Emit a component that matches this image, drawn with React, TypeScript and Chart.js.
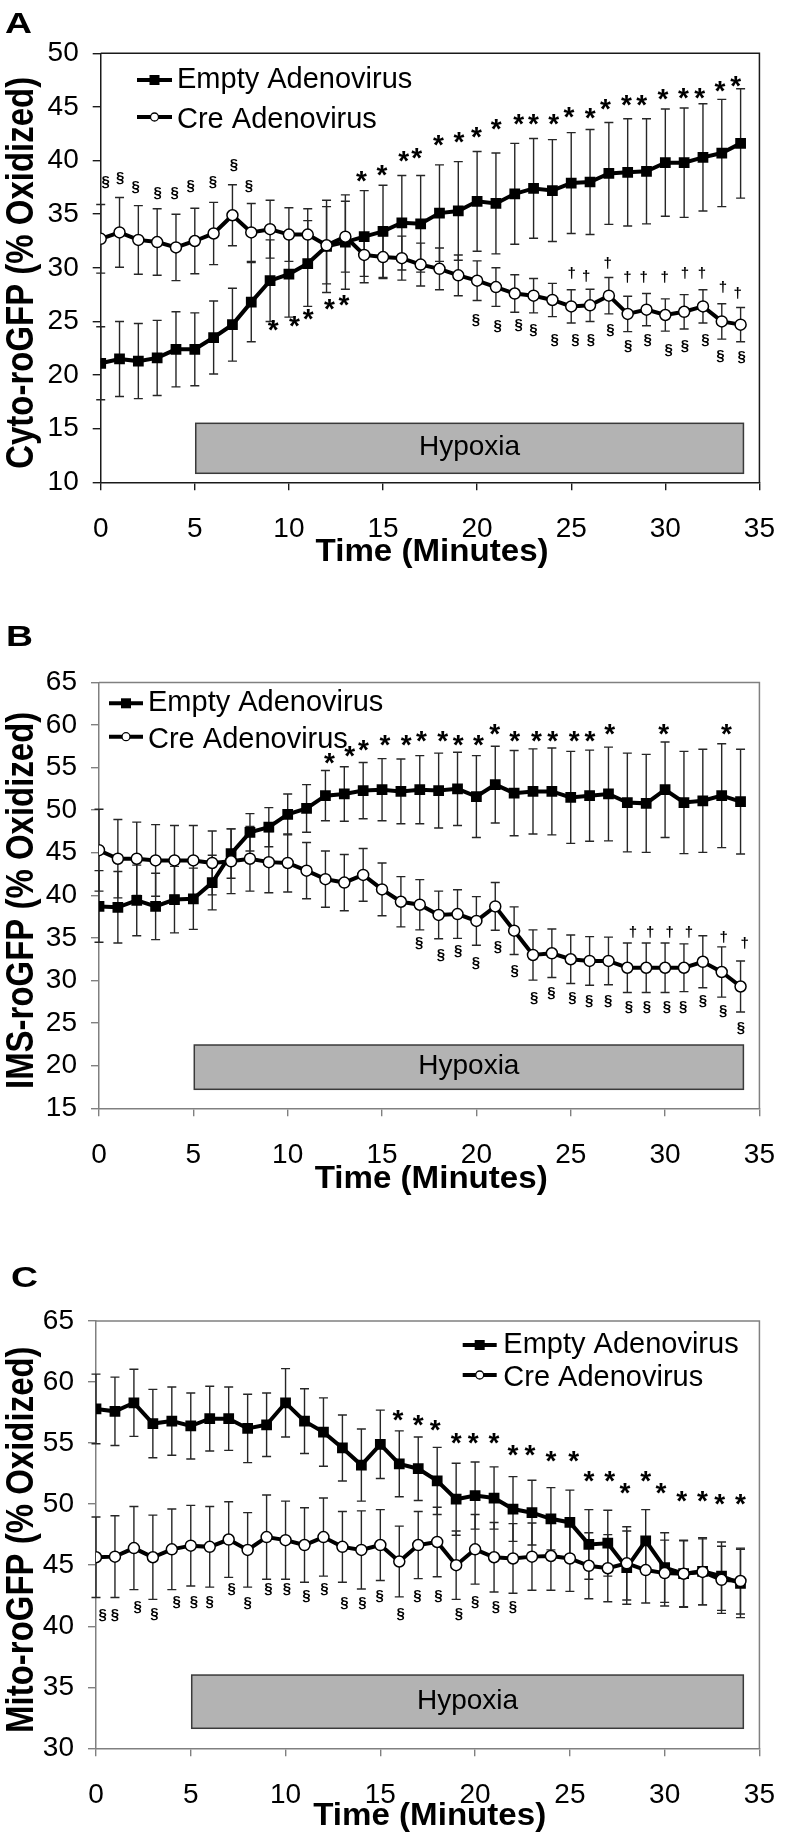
import React, { useEffect, useRef } from "react";
import { Chart, registerables } from "chart.js";

Chart.register(...registerables);

const FONT = "'Liberation Sans', Arial, Helvetica, sans-serif";

// ---------- shared categories ----------
const minutes = [0, 1, 2, 3, 4, 5, 6, 7, 8, 9, 10, 11, 12, 13, 14, 15, 16, 17, 18, 19, 20, 21, 22, 23, 24, 25, 26, 27, 28, 29, 30, 31, 32, 33, 34];
const xTicks = [0, 5, 10, 15, 20, 25, 30, 35];
const seriesNames = ["Empty Adenovirus", "Cre Adenovirus"];
const hypoxiaLabel = "Hypoxia";
const xTitle = "Time (Minutes)";

// ---------- Panel A : Cyto-roGFP ----------
const emptyA = [21.1, 21.5, 21.3, 21.6, 22.4, 22.4, 23.5, 24.7, 26.8, 28.8, 29.4, 30.4, 32.0, 32.4, 32.9, 33.4, 34.2, 34.1, 35.1, 35.3, 36.2, 36.0, 36.9, 37.4, 37.2, 37.9, 38.0, 38.8, 38.9, 39.0, 39.8, 39.8, 40.3, 40.7, 41.6];
const emptyErrA = [3.4, 3.5, 3.5, 3.5, 3.5, 3.4, 3.4, 3.4, 3.7, 3.8, 4.0, 4.0, 4.3, 4.4, 4.3, 4.3, 4.4, 4.5, 4.5, 4.6, 4.65, 4.7, 4.7, 4.65, 4.75, 4.7, 4.9, 4.75, 5.0, 4.9, 5.0, 5.1, 5.0, 5.0, 5.1];
const creA = [32.7, 33.3, 32.6, 32.4, 31.9, 32.5, 33.2, 34.9, 33.3, 33.6, 33.1, 33.1, 32.1, 32.9, 31.2, 31.0, 30.9, 30.3, 29.9, 29.3, 28.8, 28.2, 27.6, 27.4, 27.0, 26.4, 26.5, 27.4, 25.7, 26.1, 25.6, 25.9, 26.4, 25.0, 24.7];
const creErrA = [3.2, 3.25, 3.2, 3.1, 3.1, 3.05, 2.9, 2.85, 2.7, 2.7, 2.5, 2.4, 3.6, 3.3, 2.0, 2.0, 2.05, 2.0, 1.95, 1.9, 1.85, 1.8, 1.75, 1.6, 1.55, 1.55, 1.5, 1.7, 1.65, 1.5, 1.5, 1.6, 1.55, 1.65, 1.6];
const yTitleA = "Cyto-roGFP (% Oxidized)";
const yRangeA = [10, 50];
const hypoxiaRangeA = [10.84, 15.5];
const sectionAboveA = [[0.27, 38.0], [1.03, 38.34], [1.86, 37.5], [3.03, 36.94], [3.93, 36.94], [4.78, 37.56], [5.96, 38.0], [7.08, 39.58], [7.88, 37.56]];
const starBelowA = [[9.17, 24.65], [10.29, 24.96], [11.03, 25.65], [12.15, 26.6], [12.93, 26.99]];
const starAboveA = [[13.86, 38.49], [14.94, 39.1], [16.1, 40.35], [16.79, 40.65], [17.95, 41.85], [19.04, 42.15], [19.97, 42.6], [21.02, 43.4], [22.21, 43.85], [22.99, 43.85], [24.07, 43.85], [24.88, 44.5], [26.01, 44.4], [26.82, 45.2], [27.94, 45.6], [28.75, 45.6], [29.87, 46.15], [30.96, 46.25], [31.82, 46.25], [32.9, 46.9], [33.74, 47.35]];
const daggerA = [[25.02, 29.48], [25.79, 29.23], [26.94, 30.41], [27.98, 29.16], [28.85, 29.16], [29.97, 29.16], [31.04, 29.53], [31.94, 29.48], [33.06, 28.17], [33.85, 27.61]];
const sectionBelowA = [[19.94, 25.12], [21.09, 24.5], [22.21, 24.6], [22.99, 24.19], [24.12, 23.26], [25.22, 23.26], [26.05, 23.26], [27.08, 24.19], [28.03, 22.63], [29.06, 23.26], [30.18, 22.33], [31.04, 22.63], [32.13, 23.26], [32.93, 21.7], [34.05, 21.64]];

// ---------- Panel B : IMS-roGFP ----------
const emptyB = [38.7, 38.6, 39.4, 38.7, 39.5, 39.6, 41.5, 44.9, 47.4, 48.0, 49.5, 50.2, 51.7, 51.9, 52.3, 52.4, 52.2, 52.4, 52.3, 52.5, 51.6, 53.0, 52.0, 52.2, 52.2, 51.5, 51.7, 51.9, 50.9, 50.8, 52.4, 50.9, 51.1, 51.7, 51.0];
const emptyErrB = [4.2, 4.2, 4.15, 3.9, 3.9, 3.6, 3.2, 2.9, 2.2, 2.3, 2.4, 2.8, 2.95, 3.2, 3.3, 3.65, 3.8, 4.0, 4.4, 4.3, 4.8, 4.5, 5.0, 5.0, 5.1, 5.4, 5.35, 5.5, 5.8, 5.75, 5.6, 6.0, 6.05, 6.1, 6.15];
const creB = [45.3, 44.3, 44.3, 44.1, 44.1, 44.1, 43.8, 44.0, 44.3, 43.9, 43.8, 42.9, 41.9, 41.5, 42.4, 40.7, 39.25, 38.9, 37.7, 37.8, 37.0, 38.7, 35.85, 33.0, 33.2, 32.5, 32.3, 32.3, 31.5, 31.5, 31.5, 31.5, 32.2, 31.0, 29.3];
const creErrB = [4.8, 4.6, 4.3, 4.2, 4.1, 4.1, 3.75, 3.8, 3.8, 3.6, 3.4, 3.3, 3.3, 3.3, 3.1, 3.1, 2.95, 2.95, 2.8, 2.85, 2.85, 2.8, 2.8, 2.95, 2.85, 2.85, 2.85, 2.8, 2.9, 2.9, 2.9, 2.8, 3.05, 2.95, 3.0];
const yTitleB = "IMS-roGFP (% Oxidized)";
const yRangeB = [15, 65];
const hypoxiaRangeB = [17.23, 22.43];
const starB = [[12.21, 56.08], [13.28, 56.94], [14.01, 57.64], [15.16, 58.23], [16.28, 58.23], [17.09, 58.7], [18.22, 58.7], [19.03, 58.23], [20.11, 58.23], [20.97, 59.48], [22.03, 58.7], [23.18, 58.7], [24.04, 58.7], [25.18, 58.7], [26.02, 58.7], [27.06, 59.48], [29.93, 59.48], [33.25, 59.48]];
const sectionB = [[16.97, 34.37], [18.12, 32.88], [19.03, 33.38], [19.97, 32.02], [21.14, 33.9], [22.03, 31.03], [23.06, 27.91], [23.97, 28.5], [25.09, 27.91], [25.98, 27.51], [26.98, 27.51], [28.09, 26.81], [29.04, 26.81], [30.1, 26.81], [30.96, 26.81], [32.0, 27.51], [33.08, 26.34], [34.02, 24.39]];
const daggerB = [[28.3, 35.73], [29.21, 35.73], [30.24, 35.73], [31.27, 35.73], [33.11, 35.14], [34.22, 34.37]];

// ---------- Panel C : Mito-roGFP ----------
const emptyC = [57.8, 57.6, 58.3, 56.6, 56.8, 56.4, 57.0, 57.0, 56.2, 56.5, 58.3, 56.8, 55.9, 54.6, 53.2, 54.9, 53.3, 52.9, 51.9, 50.4, 50.7, 50.5, 49.6, 49.3, 48.8, 48.5, 46.7, 46.8, 44.8, 47.0, 44.8, 44.3, 44.5, 44.1, 43.5];
const emptyErrC = [2.85, 2.8, 2.75, 2.8, 2.8, 2.7, 2.65, 2.6, 2.8, 2.6, 2.8, 2.65, 2.8, 2.7, 2.95, 2.8, 2.7, 2.6, 2.75, 2.95, 2.75, 2.55, 2.65, 2.65, 2.55, 2.65, 2.85, 2.7, 3.0, 2.55, 2.85, 2.75, 2.75, 2.8, 2.8];
const creC = [45.65, 45.7, 46.4, 45.65, 46.3, 46.6, 46.5, 47.1, 46.25, 47.3, 47.05, 46.65, 47.3, 46.5, 46.25, 46.65, 45.3, 46.65, 46.9, 45.0, 46.3, 45.65, 45.55, 45.7, 45.75, 45.55, 44.95, 44.75, 45.15, 44.6, 44.35, 44.3, 44.45, 43.8, 43.7];
const creErrC = [3.3, 3.35, 3.4, 3.45, 3.3, 3.3, 3.3, 3.1, 3.05, 3.45, 3.2, 3.05, 3.2, 2.9, 3.2, 2.9, 2.9, 2.75, 2.85, 2.8, 2.85, 2.85, 2.85, 2.75, 2.8, 2.7, 2.7, 2.75, 3.0, 2.7, 2.7, 2.7, 2.7, 2.75, 2.7];
const yTitleC = "Mito-roGFP (% Oxidized)";
const yRangeC = [30, 65];
const hypoxiaRangeC = [31.64, 36.0];
const starC = [[15.93, 57.3], [17.0, 56.89], [17.9, 56.48], [19.0, 55.39], [19.9, 55.39], [21.0, 55.39], [22.0, 54.43], [22.9, 54.43], [24.0, 53.88], [25.2, 53.88], [26.0, 52.24], [27.1, 52.24], [27.9, 51.3], [29.0, 52.24], [29.8, 51.3], [30.9, 50.63], [32.0, 50.63], [32.9, 50.34], [34.0, 50.34]];
const sectionC = [[0.35, 40.84], [1.0, 40.84], [2.2, 41.55], [3.08, 40.92], [4.26, 41.93], [5.16, 41.93], [6.0, 41.93], [7.16, 43.02], [8.0, 41.87], [9.1, 43.02], [10.07, 43.02], [11.1, 42.42], [12.05, 43.02], [13.1, 41.87], [14.05, 41.87], [14.96, 42.42], [16.07, 40.92], [16.96, 42.42], [18.07, 42.42], [19.14, 40.92], [20.0, 41.93], [21.1, 41.55], [22.0, 41.55]];

const hypoxiaSpan = [5.05, 34.15];

type Marks = { list: number[][]; glyph: string }[];

type PanelCfg = {
  letter: string;
  top: number;
  height: number;
  left: number;
  areaTop: number;
  areaBottom: number;
  yRange: number[];
  hyp: number[];
  axisColor: string;
  empty: number[];
  emptyErr: number[];
  cre: number[];
  creErr: number[];
  yTitle: string;
  marks: Marks;
  legend: { x0: number; x1: number; tx: number; y1: number; y2: number };
  letterPos: { x: number; y: number };
  xTitleY: number;
};

const panels: PanelCfg[] = [
  {
    letter: "A", top: 0, height: 610, left: 100.7, areaTop: 53.3, areaBottom: 482.3,
    yRange: yRangeA, hyp: hypoxiaRangeA, axisColor: "#1a1a1a",
    empty: emptyA, emptyErr: emptyErrA, cre: creA, creErr: creErrA, yTitle: yTitleA,
    marks: [
      { list: sectionAboveA, glyph: "§" },
      { list: starBelowA, glyph: "*" },
      { list: starAboveA, glyph: "*" },
      { list: daggerA, glyph: "†" },
      { list: sectionBelowA, glyph: "§" },
    ],
    legend: { x0: 137, x1: 172, tx: 177, y1: 80, y2: 117 },
    letterPos: { x: 5, y: 23 },
    xTitleY: 553,
  },
  {
    letter: "B", top: 610, height: 610, left: 99, areaTop: 72.4, areaBottom: 498.3,
    yRange: yRangeB, hyp: hypoxiaRangeB, axisColor: "#808080",
    empty: emptyB, emptyErr: emptyErrB, cre: creB, creErr: creErrB, yTitle: yTitleB,
    marks: [
      { list: starB, glyph: "*" },
      { list: sectionB, glyph: "§" },
      { list: daggerB, glyph: "†" },
    ],
    legend: { x0: 109, x1: 143, tx: 148, y1: 703.3, y2: 736.7 },
    letterPos: { x: 6, y: 636 },
    xTitleY: 1180,
  },
  {
    letter: "C", top: 1220, height: 620, left: 96, areaTop: 101, areaBottom: 528.3,
    yRange: yRangeC, hyp: hypoxiaRangeC, axisColor: "#808080",
    empty: emptyC, emptyErr: emptyErrC, cre: creC, creErr: creErrC, yTitle: yTitleC,
    marks: [
      { list: starC, glyph: "*" },
      { list: sectionC, glyph: "§" },
    ],
    legend: { x0: 462.7, x1: 496.7, tx: 503.3, y1: 1345, y2: 1375 },
    letterPos: { x: 11, y: 1277 },
    xTitleY: 1816.7,
  },
];

const RIGHT = 778.3;
const X_AXIS_H = 60;
const Y_TITLE_LEN_A = 392; // on-page length of the panel A y title

function drawScaledText(ctx: CanvasRenderingContext2D, text: string, cx: number, cy: number, font: string, targetW: number | null, align: "center" | "left") {
  ctx.save();
  ctx.font = font;
  const m = ctx.measureText(text);
  const w = m.width;
  const sx = targetW ? targetW / w : 1;
  const asc = m.actualBoundingBoxAscent;
  const desc = m.actualBoundingBoxDescent;
  ctx.translate(cx, cy + (asc - desc) / 2);
  ctx.scale(sx, 1);
  ctx.textBaseline = "alphabetic";
  ctx.textAlign = align;
  ctx.fillStyle = "#000";
  ctx.fillText(text, 0, 0);
  ctx.restore();
}

function glyphFont(g: string) {
  if (g === "*") return `bold 28px ${FONT}`;
  return `bold 15px ${FONT}`;
}

function PanelChart({ cfg }: { cfg: PanelCfg }) {
  const ref = useRef<HTMLCanvasElement | null>(null);
  useEffect(() => {
    const canvas = ref.current;
    if (!canvas) return;
    const off = cfg.top;

    const decor = {
      id: "decor" + cfg.letter,
      beforeDatasetsDraw(chart: any) {
        const ctx: CanvasRenderingContext2D = chart.ctx;
        const xs = chart.scales.x;
        const ys = chart.scales.y;
        // hypoxia bar
        const bx0 = xs.getPixelForValue(hypoxiaSpan[0]);
        const bx1 = xs.getPixelForValue(hypoxiaSpan[1]);
        const by0 = ys.getPixelForValue(cfg.hyp[1]);
        const by1 = ys.getPixelForValue(cfg.hyp[0]);
        ctx.save();
        ctx.fillStyle = "#b3b3b3";
        ctx.fillRect(bx0, by0, bx1 - bx0, by1 - by0);
        ctx.strokeStyle = "#3a3a3a";
        ctx.lineWidth = 1.5;
        ctx.strokeRect(bx0, by0, bx1 - bx0, by1 - by0);
        ctx.restore();
        drawScaledText(ctx, hypoxiaLabel, (bx0 + bx1) / 2, (by0 + by1) / 2, `28px ${FONT}`, null, "center");
        // error bars
        ctx.save();
        ctx.strokeStyle = "#262626";
        ctx.lineWidth = 1.4;
        const series = [
          { m: cfg.empty, e: cfg.emptyErr },
          { m: cfg.cre, e: cfg.creErr },
        ];
        for (const s of series) {
          for (let i = 0; i < minutes.length; i++) {
            const x = xs.getPixelForValue(minutes[i]);
            const yt = ys.getPixelForValue(s.m[i] + s.e[i]);
            const yb = ys.getPixelForValue(s.m[i] - s.e[i]);
            ctx.beginPath();
            ctx.moveTo(x, yt);
            ctx.lineTo(x, yb);
            ctx.moveTo(x - 4.5, yt);
            ctx.lineTo(x + 4.5, yt);
            ctx.moveTo(x - 4.5, yb);
            ctx.lineTo(x + 4.5, yb);
            ctx.stroke();
          }
        }
        ctx.restore();
      },
      afterDatasetsDraw(chart: any) {
        const ctx: CanvasRenderingContext2D = chart.ctx;
        const xs = chart.scales.x;
        const ys = chart.scales.y;
        const area = chart.chartArea;
        // frame top + right
        ctx.save();
        ctx.strokeStyle = cfg.axisColor;
        ctx.lineWidth = 1.5;
        ctx.beginPath();
        ctx.moveTo(area.left, area.top);
        ctx.lineTo(area.right, area.top);
        ctx.lineTo(area.right, area.bottom);
        ctx.stroke();
        ctx.restore();
        // significance marks
        ctx.save();
        ctx.fillStyle = "#000";
        ctx.textAlign = "center";
        ctx.textBaseline = "alphabetic";
        for (const grp of cfg.marks) {
          ctx.font = glyphFont(grp.glyph);
          const m = ctx.measureText(grp.glyph);
          const mid = (m.actualBoundingBoxAscent - m.actualBoundingBoxDescent) / 2;
          for (const p of grp.list) {
            ctx.fillText(grp.glyph, xs.getPixelForValue(p[0]), ys.getPixelForValue(p[1]) + mid);
          }
        }
        ctx.restore();
        // legend
        const lg = cfg.legend;
        const rows = [lg.y1 - off, lg.y2 - off];
        ctx.save();
        ctx.strokeStyle = "#000";
        ctx.lineWidth = 4;
        for (let r = 0; r < 2; r++) {
          ctx.beginPath();
          ctx.moveTo(lg.x0, rows[r]);
          ctx.lineTo(lg.x1, rows[r]);
          ctx.stroke();
        }
        const cx = (lg.x0 + lg.x1) / 2;
        ctx.fillStyle = "#000";
        ctx.fillRect(cx - 5, rows[0] - 5, 10, 10);
        ctx.beginPath();
        ctx.arc(cx, rows[1], 4, 0, Math.PI * 2);
        ctx.fillStyle = "#fff";
        ctx.fill();
        ctx.lineWidth = 1.3;
        ctx.stroke();
        ctx.restore();
        drawScaledText(ctx, seriesNames[0], lg.tx, rows[0], `29px ${FONT}`, null, "left");
        drawScaledText(ctx, seriesNames[1], lg.tx, rows[1], `29px ${FONT}`, null, "left");
        // x axis title
        drawScaledText(ctx, xTitle, (area.left + area.right) / 2 + 2, cfg.xTitleY - off, `bold 31px ${FONT}`, 233, "center");
        // y axis title (rotated, widened perpendicular to its direction)
        ctx.save();
        const ySize = 33;
        const widen = 1.19;
        ctx.font = `bold ${ySize}px ${FONT}`;
        const kLen = Y_TITLE_LEN_A / ctx.measureText(yTitleA).width;
        ctx.translate(19, (area.top + area.bottom) / 2 + 5);
        ctx.rotate(-Math.PI / 2);
        ctx.scale(kLen, widen);
        ctx.textAlign = "center";
        ctx.textBaseline = "alphabetic";
        ctx.fillStyle = "#000";
        ctx.fillText(cfg.yTitle, 0, (0.716 * ySize) / 2);
        ctx.restore();
        // panel letter
        drawScaledText(ctx, cfg.letter, cfg.letterPos.x, cfg.letterPos.y - off, `bold 29px ${FONT}`, 27, "left");
      },
    };

    const chart = new Chart(canvas, {
      type: "line",
      data: {
        datasets: [
          {
            label: seriesNames[1],
            data: minutes.map((t, i) => ({ x: t, y: cfg.cre[i] })),
            borderColor: "#000",
            borderWidth: 4,
            pointStyle: "circle",
            pointRadius: 5.5,
            pointBackgroundColor: "#fff",
            pointBorderColor: "#000",
            pointBorderWidth: 1.5,
            tension: 0,
          },
          {
            label: seriesNames[0],
            data: minutes.map((t, i) => ({ x: t, y: cfg.empty[i] })),
            borderColor: "#000",
            borderWidth: 4,
            pointStyle: "rect",
            pointRadius: 7.6,
            pointBackgroundColor: "#000",
            pointBorderColor: "#000",
            pointBorderWidth: 0,
            tension: 0,
          },
        ],
      },
      options: {
        responsive: false,
        animation: false,
        events: [],
        layout: {
          padding: { top: cfg.areaTop, left: 0, right: 797 - RIGHT, bottom: cfg.height - cfg.areaBottom - X_AXIS_H },
        },
        plugins: { legend: { display: false }, tooltip: { enabled: false }, title: { display: false } },
        scales: {
          x: {
            type: "linear",
            min: 0,
            max: 35,
            afterBuildTicks: (scale: any) => {
              scale.ticks = xTicks.map((v) => ({ value: v }));
            },
            afterFit: (scale: any) => {
              scale.height = X_AXIS_H;
            },
            ticks: { color: "#000", font: { family: FONT, size: 28 }, padding: 22, maxRotation: 0, autoSkip: false },
            grid: { display: true, drawOnChartArea: false, drawTicks: true, tickLength: 8, color: cfg.axisColor, lineWidth: 1.4 },
            border: { display: true, color: cfg.axisColor, width: 1.5 },
          },
          y: {
            type: "linear",
            min: cfg.yRange[0],
            max: cfg.yRange[1],
            ticks: { stepSize: 5, color: "#000", font: { family: FONT, size: 28 }, padding: 14 },
            afterFit: (scale: any) => {
              scale.width = cfg.left;
            },
            grid: { display: true, drawOnChartArea: false, drawTicks: true, tickLength: 8, color: cfg.axisColor, lineWidth: 1.4 },
            border: { display: true, color: cfg.axisColor, width: 1.5 },
          },
        },
      } as any,
      plugins: [decor],
    });
    return () => chart.destroy();
  }, [cfg]);
  return (
    <canvas
      ref={ref}
      width={797}
      height={cfg.height}
      style={{ position: "absolute", left: 0, top: cfg.top, width: 797, height: cfg.height }}
    />
  );
}

export default function App() {
  return (
    <div style={{ position: "absolute", left: 0, top: 0, width: 797, height: 1840, background: "#fff", overflow: "hidden" }}>
      {panels.map((p) => (
        <PanelChart key={p.letter} cfg={p} />
      ))}
    </div>
  );
}
